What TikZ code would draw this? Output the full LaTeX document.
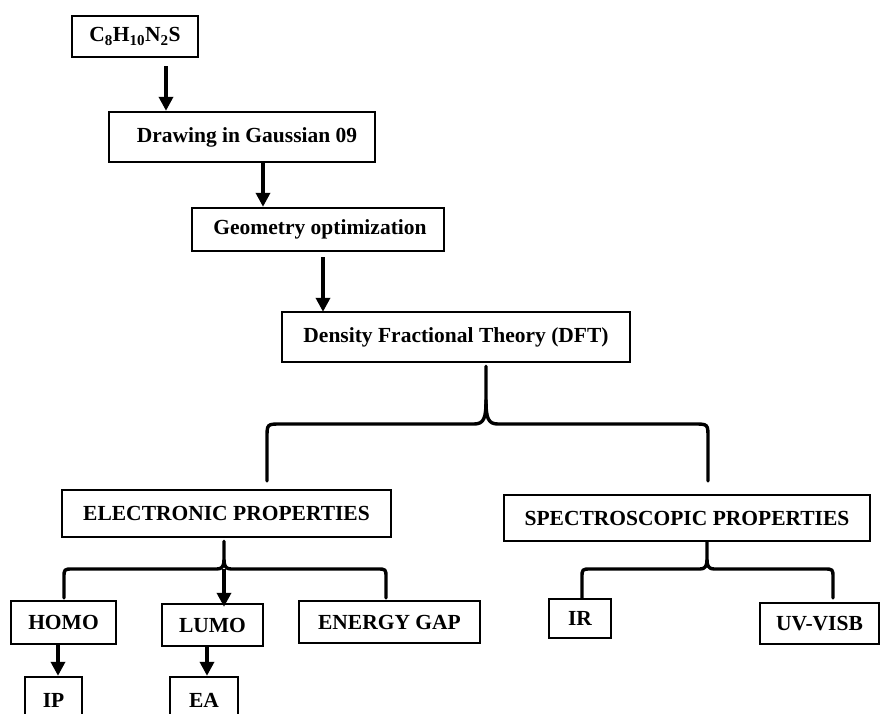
\documentclass[tikz,border=0pt]{standalone}
\usepackage{fontspec}
\setmainfont{Liberation Serif}
\usetikzlibrary{arrows.meta}
\begin{document}
\begin{tikzpicture}[x=1pt,y=-1pt,
  box/.style={draw=black,line width=2.4pt,inner sep=0pt,font=\bfseries\fontsize{21.5}{24}\selectfont},
  arr/.style={line width=3.4pt,-{Triangle[length=14pt,width=14pt]}},
  brace/.style={line width=3.4pt,line cap=round,line join=round}]
\useasboundingbox (0,0) rectangle (880,713);
\node[box,minimum width=126pt,minimum height=41pt] (c1) at (135,36.5) {C\textsubscript{8}H\textsubscript{10}N\textsubscript{2}S};
\node[box,minimum width=266pt,minimum height=50pt] (c2) at (242,137) {\hspace{10pt}Drawing in Gaussian 09};
\node[box,minimum width=252pt,minimum height=43pt] (c3) at (318,229.5) {\hspace{4pt}Geometry optimization};
\node[box,minimum width=348pt,minimum height=50pt] (c4) at (456,337) {Density Fractional Theory (DFT)};
\node[box,minimum width=329pt,minimum height=47pt] (elec) at (226.5,513.5) {ELECTRONIC PROPERTIES\hspace{6pt}};
\node[box,minimum width=366pt,minimum height=46pt] (spec) at (687,518) {SPECTROSCOPIC PROPERTIES\hspace{4pt}};
\node[box,minimum width=105pt,minimum height=43pt] (homo) at (63.5,622.5) {HOMO};
\node[box,minimum width=101pt,minimum height=42pt] (lumo) at (212.5,625) {LUMO};
\node[box,minimum width=181pt,minimum height=42pt] (gap) at (389.5,622) {ENERGY GAP\hspace{7pt}};
\node[box,minimum width=57pt,minimum height=46pt] (ip) at (53.5,700) {IP};
\node[box,minimum width=68pt,minimum height=46pt] (ea) at (204,700) {EA};
\node[box,minimum width=62pt,minimum height=39pt] (ir) at (580,618.5) {IR};
\node[box,minimum width=119pt,minimum height=41pt] (uv) at (819.5,623.5) {UV-VISB};
% arrows
\draw[arr] ([xshift=31pt,yshift=-8pt]c1.south) -- ([xshift=-76pt]c2.north);
\draw[arr] ([xshift=21pt]c2.south) -- ([xshift=-55pt]c3.north);
\draw[arr] ([xshift=5pt,yshift=-5pt]c3.south) -- ([xshift=-133pt,yshift=-1pt]c4.north);
\draw[arr] ([xshift=-5.5pt]homo.south) -- ([xshift=4.5pt]ip.north);
\draw[arr] ([xshift=-5.5pt]lumo.south) -- ([xshift=3pt]ea.north);
% main brace
\coordinate (bt) at ([xshift=30pt,yshift=-3pt]c4.south);
\coordinate (bl) at (267,481);
\coordinate (br) at (708,481);
\draw[brace] (bl) -- (267,438) .. controls (267,424) .. (281,424) -- (474,424)
  .. controls (484,424) and (486,418) .. (486,400) -- (bt);
\draw[brace] (br) -- (708,438) .. controls (708,424) .. (694,424) -- (498,424)
  .. controls (488,424) and (486,418) .. (486,400);
% electronic brace
\coordinate (et) at ([xshift=-2.5pt,yshift=-3pt]elec.south);
\coordinate (el) at (64,598);
\coordinate (er) at (386,598);
\draw[brace] (el) -- (64,578) .. controls (64,569) .. (73,569) -- (217,569)
  .. controls (222,569) and (224,566) .. (224,560) -- (et);
\draw[brace] (er) -- (386,578) .. controls (386,569) .. (377,569) -- (231,569)
  .. controls (226,569) and (224,566) .. (224,560);
\draw[arr] (224,569) -- ([xshift=11.5pt,yshift=-4pt]lumo.north);
% spectroscopic brace
\coordinate (st) at ([xshift=20pt]spec.south);
\coordinate (sl) at (582,598);
\coordinate (sr) at (833,598);
\draw[brace] (sl) -- (582,578) .. controls (582,569) .. (591,569) -- (700,569)
  .. controls (705,569) and (707,566) .. (707,560) -- (st);
\draw[brace] (sr) -- (833,578) .. controls (833,569) .. (824,569) -- (714,569)
  .. controls (709,569) and (707,566) .. (707,560);
\end{tikzpicture}
\end{document}
